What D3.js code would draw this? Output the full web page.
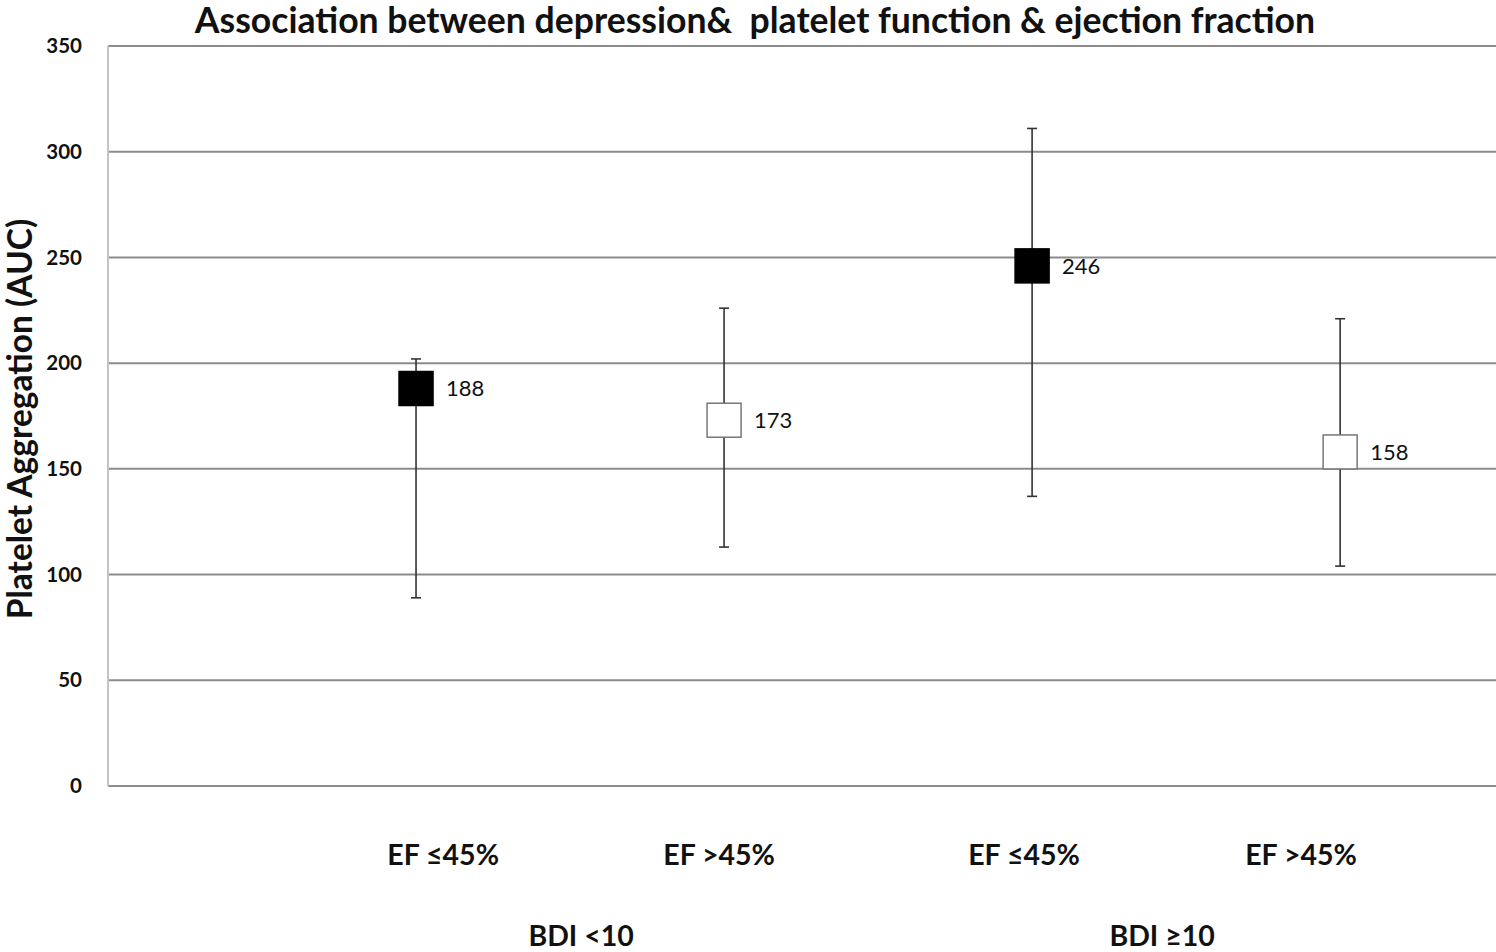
<!DOCTYPE html>
<html><head><meta charset="utf-8">
<script src="https://cdn.jsdelivr.net/npm/d3@7"></script>
<style>body{margin:0;background:#fff}svg{display:block}text{white-space:pre}</style>
</head><body><svg id="c" width="1496" height="952"></svg>
<script>
const positions = [1, 2, 3, 4];
const means = [188, 173, 246, 158];
const upper = [202, 226, 311, 221];
const lower = [89, 113, 137, 104];
const filled = [true, false, true, false];
const valueLabels = ["188", "173", "246", "158"];
const categoryLabels = ["EF \u226445%", "EF >45%", "EF \u226445%", "EF >45%"];
const categoryLabelPos = [1.088, 1.984, 2.974, 3.873];
const groupLabels = ["BDI <10", "BDI \u226510"];
const groupLabelPos = [1.536, 3.422];
const yTicks = [0, 50, 100, 150, 200, 250, 300, 350];
const title = "Association between depression&  platelet function & ejection fraction";
const yTitle = "Platelet Aggregation (AUC)";

const svg = d3.select("#c");
const font = "Lato, 'Open Sans', sans-serif";
const x = d3.scaleLinear().domain([0, 4.506]).range([108, 1496]);
const y = d3.scaleLinear().domain([0, 350]).range([786, 46]);

// gridlines
svg.append("g").selectAll("line").data(yTicks).join("line")
  .attr("x1", x(0)).attr("x2", x(4.506))
  .attr("y1", d => y(d)).attr("y2", d => y(d))
  .attr("stroke", "#8c8c8c").attr("stroke-width", 2);
// left axis line
svg.append("line").attr("x1", x(0)).attr("x2", x(0)).attr("y1", y(350)).attr("y2", y(0))
  .attr("stroke", "#c4c4c4").attr("stroke-width", 2);

// y tick labels
svg.append("g").selectAll("text").data(yTicks).join("text")
  .attr("x", 82).attr("y", d => y(d)).attr("dy", "0.35em")
  .attr("text-anchor", "end").attr("font-family", font).attr("font-weight", "bold")
  .attr("font-size", 20.5).attr("fill", "#111").text(d => d);

// y title
svg.append("text").attr("transform", `translate(32,${419}) rotate(-90)`)
  .attr("text-anchor", "middle").attr("font-family", font).attr("font-weight", "bold")
  .attr("font-size", 33.5).attr("fill", "#111").text(yTitle);

// title
svg.append("text").attr("x", 755).attr("y", 33).attr("text-anchor", "middle")
  .attr("font-family", font).attr("font-weight", "bold").attr("font-size", 35.6)
  .attr("fill", "#111").text(title);

// error bars
const g = svg.append("g");
positions.forEach((p, i) => {
  const cx = x(p);
  g.append("line").attr("x1", cx).attr("x2", cx).attr("y1", y(upper[i])).attr("y2", y(lower[i]))
    .attr("stroke", "#333").attr("stroke-width", 1.6);
  [upper[i], lower[i]].forEach(v => {
    g.append("line").attr("x1", cx - 5).attr("x2", cx + 5).attr("y1", y(v)).attr("y2", y(v))
      .attr("stroke", "#333").attr("stroke-width", 1.6);
  });
  const s = 34;
  g.append("rect").attr("x", cx - s / 2).attr("y", y(means[i]) - s / 2)
    .attr("width", s).attr("height", s)
    .attr("fill", filled[i] ? "#000" : "#fff")
    .attr("stroke", filled[i] ? "#000" : "#777").attr("stroke-width", 1.5);
  g.append("text").attr("x", cx + 30).attr("y", y(means[i])).attr("dy", "0.36em")
    .attr("font-family", font).attr("font-size", 22).attr("fill", "#111").text(valueLabels[i]);
});

// category labels
svg.append("g").selectAll("text").data(categoryLabels).join("text")
  .attr("x", (d, i) => x(categoryLabelPos[i])).attr("y", 865).attr("text-anchor", "middle")
  .attr("font-family", font).attr("font-weight", "bold").attr("font-size", 28.5)
  .attr("fill", "#111").text(d => d);
svg.append("g").selectAll("text").data(groupLabels).join("text")
  .attr("x", (d, i) => x(groupLabelPos[i])).attr("y", 946).attr("text-anchor", "middle")
  .attr("font-family", font).attr("font-weight", "bold").attr("font-size", 28.5)
  .attr("fill", "#111").text(d => d);
</script></body></html>
